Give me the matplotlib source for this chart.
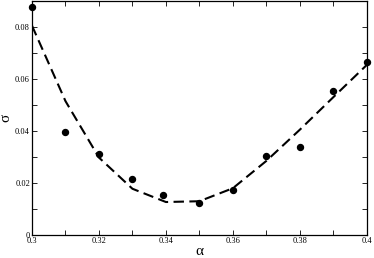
import matplotlib
matplotlib.use("Agg")
import matplotlib.pyplot as plt
from matplotlib.ticker import MultipleLocator, FuncFormatter

# measured points
alpha_pts = [0.300, 0.310, 0.320, 0.330, 0.339, 0.350, 0.360, 0.370, 0.380, 0.390, 0.400]
sigma_pts = [0.0876, 0.0396, 0.0313, 0.0217, 0.0155, 0.0123, 0.0174, 0.0305, 0.0338, 0.0555, 0.0667]

# fitted curve (dashed)
alpha_fit = [0.30, 0.31, 0.32, 0.33, 0.34, 0.35, 0.36, 0.37, 0.38, 0.39, 0.40]
sigma_fit = [0.0805, 0.0515, 0.0298, 0.0178, 0.0127, 0.0130, 0.0180, 0.0285, 0.0405, 0.0530, 0.0654]

plt.rcParams["font.family"] = ["Liberation Serif", "DejaVu Serif"]

fig = plt.figure(figsize=(3.74, 2.58), dpi=100)
ax = fig.add_axes([0.0856, 0.089, 0.895, 0.907])

ax.plot(alpha_fit, sigma_fit, "--", color="black", lw=1.5, dashes=(5, 2.6))
ax.plot(alpha_pts, sigma_pts, "o", color="black", ms=4.3, clip_on=False)

ax.set_xlim(0.3, 0.4)
ax.set_ylim(0, 0.09)
ax.xaxis.set_major_locator(MultipleLocator(0.02))
ax.xaxis.set_minor_locator(MultipleLocator(0.01))
ax.yaxis.set_major_locator(MultipleLocator(0.02))
ax.yaxis.set_minor_locator(MultipleLocator(0.01))
fmt = FuncFormatter(lambda v, p: "0" if abs(v) < 1e-9 else f"{v:g}")
ax.xaxis.set_major_formatter(fmt)
ax.yaxis.set_major_formatter(fmt)

ax.tick_params(which="both", direction="in", top=True, right=True, labelsize=6, pad=1.5)
ax.tick_params(which="major", length=3.5, width=0.6)
ax.tick_params(which="minor", length=3.5, width=0.6)
for s in ax.spines.values():
    s.set_linewidth(0.9)

ax.set_xlabel("α", fontsize=11, labelpad=0)
ax.set_ylabel("σ", fontsize=11, labelpad=2)

fig.savefig("out.png", dpi=100)
